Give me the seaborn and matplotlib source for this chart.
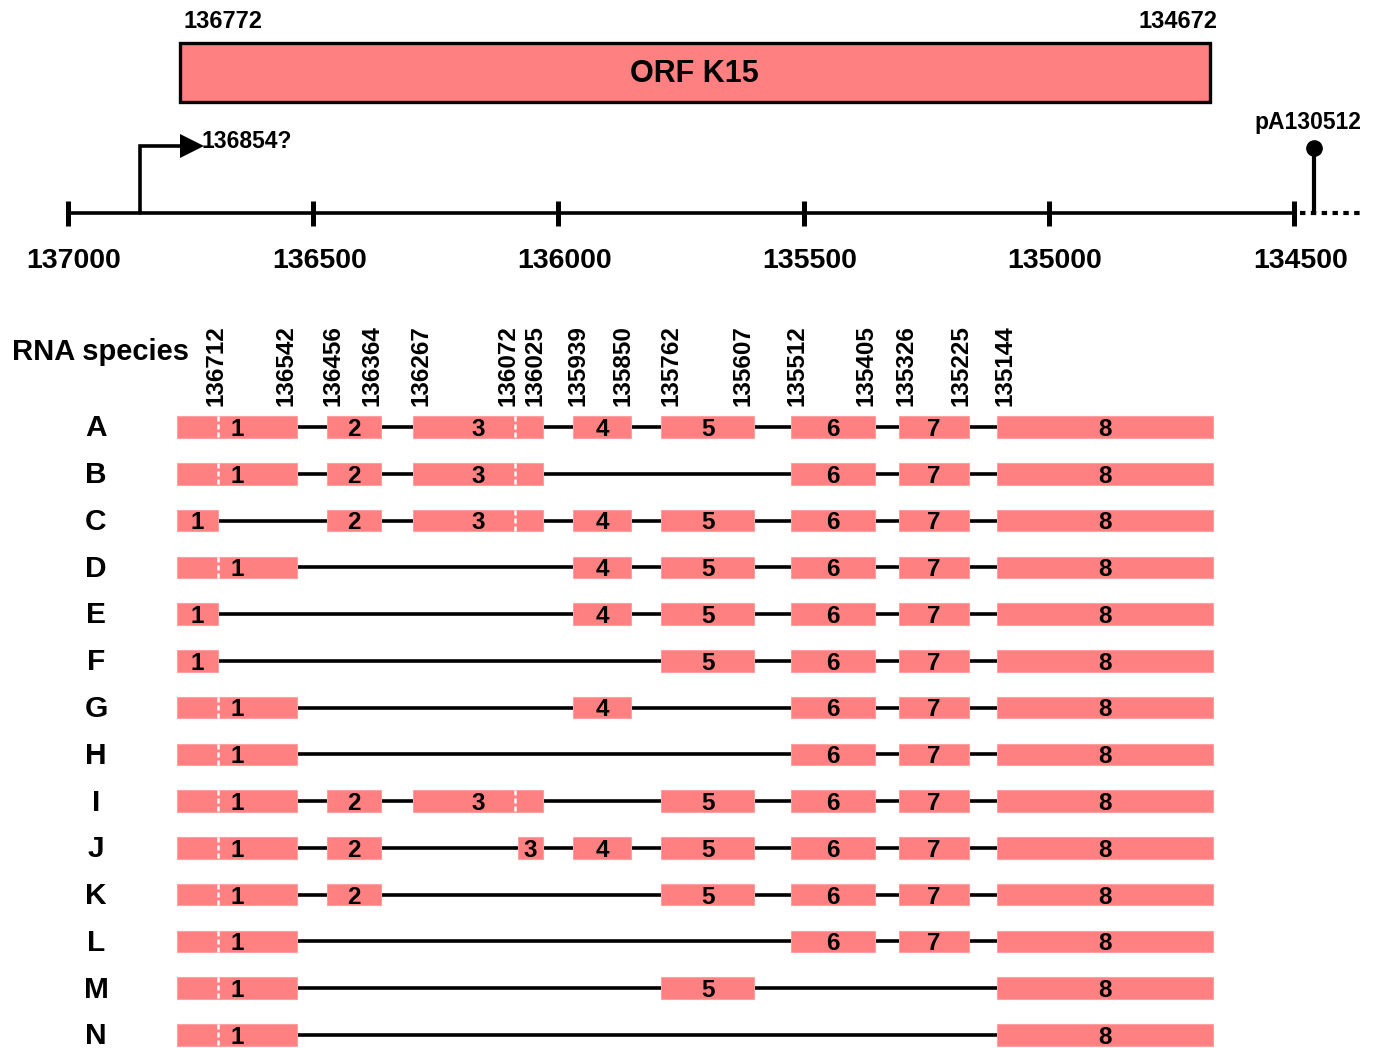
import matplotlib
matplotlib.use("Agg")
import matplotlib.pyplot as plt
import numpy as np
import pandas as pd
import seaborn as sns

### data

# genome map (top)
axis_ticks = [137000, 136500, 136000, 135500, 135000, 134500]
orf_start = 136772
orf_end = 134672
orf_name = "ORF K15"
tss = 136854
tss_label = "136854?"
polya_label = "pA130512"
polya_draw = 134460   # real site is off the map, drawn just past the break
break_end = 134366

# splice site labels over the RNA panel
site_labels = [136712, 136542, 136456, 136364, 136267, 136072, 136025, 135939,
               135850, 135762, 135607, 135512, 135405, 135326, 135225, 135144]
site_label_pos = [136698, 136556, 136460, 136380, 136280, 136103, 136048, 135960,
                  135868, 135771, 135624, 135514, 135373, 135292, 135179, 135090]

# exons as drawn (schematic, not to scale)
exon_ids = ["1", "1s", "2", "3", "3s", "4", "5", "6", "7", "8"]
exon_left = [136778, 136778, 136472, 136297, 136083, 135970, 135791, 135526, 135306, 135106]
exon_right = [136533, 136694, 136362, 136032, 136032, 135852, 135601, 135355, 135163, 134666]
exon_text = ["1", "1", "2", "3", "3", "4", "5", "6", "7", "8"]
exon_text_pos = [136655, None, None, None, None, None, None, None, None, None]
exon_split = [136694, None, None, 136089, None, None, None, None, None, None]

species = list("ABCDEFGHIJKLMN")
species_exons = [
    ["1", "2", "3", "4", "5", "6", "7", "8"],
    ["1", "2", "3", "6", "7", "8"],
    ["1s", "2", "3", "4", "5", "6", "7", "8"],
    ["1", "4", "5", "6", "7", "8"],
    ["1s", "4", "5", "6", "7", "8"],
    ["1s", "5", "6", "7", "8"],
    ["1", "4", "6", "7", "8"],
    ["1", "6", "7", "8"],
    ["1", "2", "3", "5", "6", "7", "8"],
    ["1", "2", "3s", "4", "5", "6", "7", "8"],
    ["1", "2", "5", "6", "7", "8"],
    ["1", "6", "7", "8"],
    ["1", "5", "8"],
    ["1", "8"],
]

exons = pd.DataFrame({"left": exon_left, "right": exon_right, "text": exon_text,
                      "text_pos": exon_text_pos, "split": exon_split}, index=exon_ids)

### style
sns.set_theme(style="white")
plt.rcParams["font.family"] = ["Liberation Sans", "DejaVu Sans"]
plt.rcParams["font.weight"] = "bold"
plt.rcParams["text.color"] = "black"

salmon = "#ff8080"
bp_px = 1 / 0.4905   # bp per pixel of the map

fig = plt.figure(figsize=(13.74, 10.48), dpi=100)
xlim = (137138.6, 134337.4)

## top: genome map
ax = fig.add_axes([0, 1 - 300 / 1048, 1, 300 / 1048])
ax.set_xlim(*xlim)
ax.set_ylim(300, 0)
ax.axis("off")

ax.barh(72.5, orf_end - orf_start, left=orf_start, height=59, color=salmon,
        edgecolor="black", linewidth=2.4)
ax.text((orf_start + orf_end) / 2, 74, orf_name, ha="center", va="center", fontsize=22)
ax.text(orf_start - 4 * bp_px, 22, str(orf_start), ha="left", va="center", fontsize=17)
ax.text(orf_end - 8 * bp_px, 22, str(orf_end), ha="right", va="center", fontsize=17)

ax.hlines(213, axis_ticks[0], axis_ticks[-1], color="black", lw=2.6)
ax.vlines(axis_ticks, 201, 226, color="black", lw=3.6)
for t in axis_ticks:
    ax.text(t - 6 * bp_px, 261, str(t), ha="center", va="center", fontsize=20.5)
ax.plot([axis_ticks[-1] - 6 * bp_px, break_end], [213, 213], color="black", lw=3,
        ls=(0, (1.3, 1.3)), dash_capstyle="butt")

# promoter arrow
ax.plot([tss, tss, tss - 44 * bp_px], [213, 146, 146], color="black", lw=2.6,
        solid_joinstyle="miter")
ax.plot(tss - 52 * bp_px, 146, marker=">", ms=17, color="black", mew=0)
ax.text(tss - 62 * bp_px, 141, tss_label, ha="left", va="center", fontsize=16.5)

# polyA lollipop
ax.vlines(polya_draw, 148, 213, color="black", lw=3)
ax.plot(polya_draw, 148, marker="o", ms=11, color="black")
ax.text(polya_draw + 6 * bp_px, 122, polya_label, ha="center", va="center", fontsize=16.5)

## bottom: RNA species
ax2 = fig.add_axes([0, 0, 1, 728 / 1048])
ax2.set_xlim(*xlim)
ax2.set_ylim(13.278, -2.288)
ax2.axis("off")

ax2.text(137114, -1.6, "RNA species", ha="left", va="center", fontsize=21)
for lab, pos in zip(site_labels, site_label_pos):
    ax2.text(pos, -0.45, str(lab), rotation=90, ha="center", va="bottom", fontsize=17.5)

h = 0.46
for i, (sp, ex_list) in enumerate(zip(species, species_exons)):
    ax2.text(136943, i + 0.03, sp, ha="center", va="center", fontsize=21.5)
    sub = exons.loc[ex_list]
    ax2.hlines(i, sub["left"].iloc[0], sub["right"].iloc[-1], color="black", lw=2.6, zorder=1)
    ax2.barh([i] * len(sub), sub["right"] - sub["left"], left=sub["left"], height=h,
             color=salmon, edgecolor="#ffa0a0", linewidth=0.8, zorder=2)
    for name, row in sub.iterrows():
        if pd.notna(row["split"]):
            ax2.vlines(row["split"], i - h / 2, i + h / 2, colors="white", lw=1.8,
                       linestyles=(0, (2, 1.2)), zorder=3)
        xt = row["text_pos"] if pd.notna(row["text_pos"]) else (row["left"] + row["right"]) / 2
        ax2.text(xt, i + 0.05, row["text"], ha="center", va="center", fontsize=17.5, zorder=4)

fig.savefig("out.png", dpi=100)
